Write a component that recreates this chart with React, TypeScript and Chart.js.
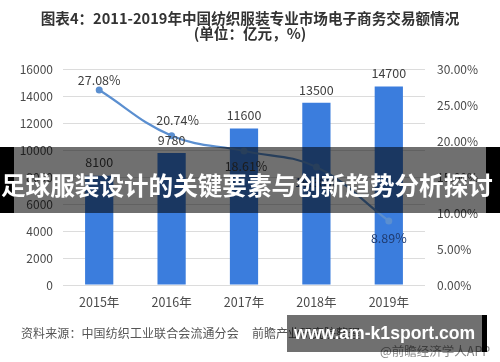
import React, { useEffect, useRef } from "react";
import { Chart, registerables } from "chart.js";

Chart.register(...registerables);

const categories = ["2015年", "2016年", "2017年", "2018年", "2019年"];
const salesValues = [8100, 9780, 11600, 13500, 14700];
const growthValues = [27.08, 20.74, 18.61, 16.38, 8.89];
const leftAxis = { min: 0, max: 16000, step: 2000 };
const rightAxis = { min: 0, max: 30, step: 5 };

const titleLine1 = "图表4：2011-2019年中国纺织服装专业市场电子商务交易额情况";
const titleLine2 = "(单位：亿元，%)";
const sourceText = "资料来源：中国纺织工业联合会流通分会";
const sourceText2 = "前瞻产业研究院整理";
const brandText = "@前瞻经济学人APP";
const bannerText = "足球服装设计的关键要素与创新趋势分析探讨";
const siteText = "www.am-k1sport.com";

const FONT = '"Noto Sans CJK SC", "Noto Sans", sans-serif';
const lineLabelDy = [-10, -15, 15, 15, 17];
const lineLabelDx = [0, 6, 2, 0, 0];
const lineLabelColors = ["#404040", "#404040", "#404040", "#1f3a6e", "#1f3a6e"];

const labelPlugin = {
  id: "valueLabels",
  afterDatasetsDraw(chart: any) {
    const ctx = chart.ctx;
    ctx.save();
    ctx.font = `12.5px ${FONT}`;
    ctx.textAlign = "center";
    ctx.textBaseline = "middle";
    const barMeta = chart.getDatasetMeta(0);
    barMeta.data.forEach((bar: any, i: number) => {
      ctx.fillStyle = "#404040";
      ctx.fillText(String(salesValues[i]), bar.x, bar.y - 13);
    });
    const lineMeta = chart.getDatasetMeta(1);
    lineMeta.data.forEach((pt: any, i: number) => {
      ctx.fillStyle = lineLabelColors[i];
      ctx.fillText(growthValues[i].toFixed(2) + "%", pt.x + lineLabelDx[i], pt.y + lineLabelDy[i]);
    });
    ctx.restore();
  },
};

export default function App() {
  const canvasRef = useRef<HTMLCanvasElement | null>(null);

  useEffect(() => {
    if (!canvasRef.current) return;
    const chart = new Chart(canvasRef.current, {
      type: "bar",
      data: {
        labels: categories,
        datasets: [
          {
            type: "bar",
            label: "交易额",
            data: salesValues,
            backgroundColor: "#3b7ddd",
            categoryPercentage: 1,
            barPercentage: 0.39,
            yAxisID: "y",
            order: 2,
          },
          {
            type: "line",
            label: "增速",
            data: growthValues,
            borderColor: "#5b8fd0",
            backgroundColor: "#5b8fd0",
            borderWidth: 2.2,
            pointRadius: 3.5,
            pointBorderWidth: 0,
            tension: 0.4,
            yAxisID: "y1",
            order: 1,
          },
        ],
      } as any,
      options: {
        responsive: false,
        animation: false,
        layout: { padding: { top: 69, left: 0, right: 0, bottom: 0 } },
        plugins: {
          legend: { display: false },
          tooltip: { enabled: false },
          title: { display: false },
        },
        scales: {
          x: {
            grid: { display: false, drawTicks: false },
            border: { display: false },
            ticks: { color: "#4a4a4a", font: { family: FONT, size: 12.5 }, padding: 10 },
            afterFit: (s: any) => { s.height = 77; },
          },
          y: {
            position: "left",
            min: leftAxis.min,
            max: leftAxis.max,
            ticks: {
              stepSize: leftAxis.step,
              color: "#4a4a4a",
              font: { family: FONT, size: 12 },
              padding: 10,
              callback: (v: any) => String(v),
            },
            grid: { color: "#dcdcdc", drawTicks: false },
            border: { display: false },
            afterFit: (s: any) => { s.width = 63; },
          },
          y1: {
            position: "right",
            min: rightAxis.min,
            max: rightAxis.max,
            ticks: {
              stepSize: rightAxis.step,
              color: "#4a4a4a",
              font: { family: FONT, size: 12 },
              padding: 12,
              callback: (v: any) => Number(v).toFixed(2) + "%",
            },
            grid: { display: false, drawTicks: false },
            border: { display: false },
            afterFit: (s: any) => { s.width = 75; },
          },
        },
      } as any,
      plugins: [labelPlugin],
    });
    return () => chart.destroy();
  }, []);

  const abs = (o: any) => ({ position: "absolute", ...o } as React.CSSProperties);

  return (
    <div style={{ position: "fixed", left: 0, top: 0, width: 500, height: 362, background: "#fff", overflow: "hidden", fontFamily: FONT }}>
      <canvas ref={canvasRef} width={500} height={362} style={abs({ left: 0, top: 0, width: 500, height: 362 })} />
      <div style={abs({ left: 0, width: 500, top: 9, textAlign: "center", fontSize: 14.6, fontWeight: 700, color: "#333", lineHeight: "18px", whiteSpace: "nowrap" })}>{titleLine1}</div>
      <div style={abs({ left: 0, width: 500, top: 24, textAlign: "center", fontSize: 14.6, fontWeight: 700, color: "#333", lineHeight: "18px", whiteSpace: "nowrap" })}>{titleLine2}</div>
      <div style={abs({ left: 21, top: 324, fontSize: 12, color: "#555", lineHeight: "18px", whiteSpace: "nowrap", letterSpacing: "0.1px" })}>{sourceText}</div>
      <div style={abs({ left: 252, top: 324, fontSize: 12, color: "#555", lineHeight: "18px", whiteSpace: "nowrap" })}>{sourceText2}</div>
      <div style={abs({ left: 380, top: 342, fontSize: 12.5, color: "#888", lineHeight: "18px", whiteSpace: "nowrap" })}>{brandText}</div>
      <div style={abs({ left: 0, top: 147, width: 14, height: 66, background: "#000" })} />
      <div style={abs({ left: 14, top: 147, width: 472, height: 66, background: "rgba(0,0,0,0.56)" })} />
      <div style={abs({ left: 486, top: 147, width: 14, height: 66, background: "#000" })} />
      <div style={abs({ left: 1, top: 168, fontSize: 24.6, fontWeight: 700, color: "#fff", lineHeight: "32px", whiteSpace: "nowrap" })}>{bannerText}</div>
      <div style={abs({ left: 287, top: 315, width: 195, height: 37, background: "rgba(0,0,0,0.56)" })} />
      <div style={abs({ left: 482, top: 315, width: 5, height: 37, background: "#000" })} />
      <div style={abs({ left: 294, top: 321, fontSize: 17.6, fontWeight: 700, color: "#fff", lineHeight: "24px", whiteSpace: "nowrap", fontFamily: '"Liberation Sans", Arial, sans-serif' })}>{siteText}</div>
    </div>
  );
}
